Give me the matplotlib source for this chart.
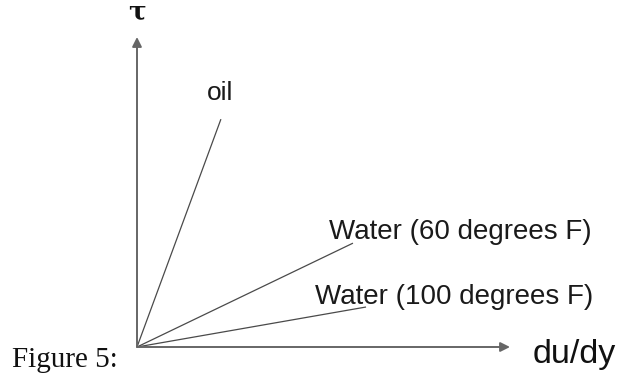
import matplotlib
matplotlib.use("Agg")
import matplotlib.pyplot as plt

# Data (arbitrary units; axes span 0..10)
series = ["oil", "Water (60 degrees F)", "Water (100 degrees F)"]
end_x = [2.25, 5.79, 6.14]
end_y = [7.35, 3.35, 1.29]
label_x = [2.23, 5.15, 4.77]
label_y = [8.19, 3.71, 1.61]
label_ha = ["center", "left", "left"]
label_size = [19, 20, 20]
x_label = "du/dy"
y_label = "τ"
caption = "Figure 5:"

W, H = 619, 374
fig = plt.figure(figsize=(W / 100, H / 100), dpi=100)
ox, oy = 137, 347
xr, yr = 510, 37
ax = fig.add_axes([ox / W, (H - oy) / H, (xr - ox) / W, (oy - yr) / H])
ax.set_xlim(0, 10)
ax.set_ylim(0, 10)
ax.axis("off")

for xe, ye in zip(end_x, end_y):
    ax.plot([0, xe], [0, ye], color="#4a4a4a", lw=0.9, solid_capstyle="butt", clip_on=False)

for name, lx, ly, ha, fs in zip(series, label_x, label_y, label_ha, label_size):
    ax.text(lx, ly, name, ha=ha, va="center", fontsize=fs,
            family="Liberation Sans", color="#1a1a1a")

arrow = dict(arrowstyle="-|>", color="#666666", lw=1.4, mutation_scale=14,
             shrinkA=0, shrinkB=0)
ax.annotate("", xy=(10, 0), xytext=(0, 0), arrowprops=arrow, annotation_clip=False)
ax.annotate("", xy=(0, 10), xytext=(0, 0), arrowprops=arrow, annotation_clip=False)

ax.text(10.6, -0.52, x_label, ha="left", va="baseline", fontsize=24.5,
        family="Liberation Sans", color="#111111")
ax.text(0, 10.55, y_label, ha="center", va="baseline", fontsize=19,
        family="DejaVu Serif", weight="bold", color="#111111")

fig.text(12 / W, (H - 367) / H, caption, ha="left", va="baseline", fontsize=21,
         family="Liberation Serif", color="#111111")

fig.savefig("out.png", dpi=100, facecolor="white")
